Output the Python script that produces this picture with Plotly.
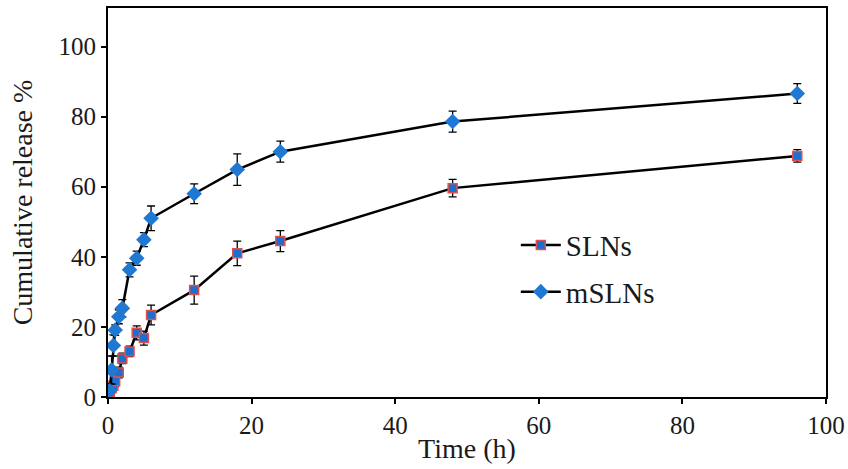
import plotly.graph_objects as go

# Sampling times (h)
time_h = [0.25, 0.5, 0.75, 1, 1.5, 2, 3, 4, 5, 6, 12, 18, 24, 48, 96]

# Cumulative release (%) and standard deviations
sln_release = [1.5, 2.5, 3.2, 4.5, 7.0, 11.0, 13.0, 18.3, 16.8, 23.4, 30.5, 41.0, 44.5, 59.6, 68.8]
sln_sd = [1.0, 1.2, 1.2, 1.5, 1.5, 1.5, 1.5, 2.0, 2.0, 2.8, 4.0, 3.5, 3.0, 2.5, 1.8]

msln_release = [1.8, 7.7, 14.7, 19.1, 22.9, 25.3, 36.3, 39.6, 44.9, 51.0, 58.0, 64.9, 70.0, 78.6, 86.6]
msln_sd = [2.0, 4.0, 3.0, 1.5, 2.0, 2.5, 2.0, 2.0, 2.0, 3.5, 2.8, 4.5, 3.0, 3.0, 2.8]

serif = "Liberation Serif, Times New Roman, serif"
ink = "#1a1a1a"

fig = go.Figure()

fig.add_trace(go.Scatter(
    x=time_h, y=sln_release, name="SLNs", mode="lines+markers",
    legendgroup="sln",
    line=dict(color="black", width=2.5),
    marker=dict(symbol="square", size=9, color="#1a6fd0",
                line=dict(color="#e0504a", width=1.5)),
    error_y=dict(type="data", array=sln_sd, visible=True,
                 color="black", thickness=1.3, width=4),
))

fig.add_trace(go.Scatter(
    x=time_h, y=msln_release, name="mSLNs", mode="lines+markers",
    legendgroup="msln",
    line=dict(color="black", width=2.5),
    marker=dict(symbol="diamond", size=12, color="#1f78d1",
                line=dict(color="#1f78d1", width=0)),
    error_y=dict(type="data", array=msln_sd, visible=True,
                 color="black", thickness=1.3, width=4),
))

fig.update_layout(
    width=848, height=469,
    margin=dict(l=108, r=22, t=8, b=72),
    paper_bgcolor="white", plot_bgcolor="white",
    font=dict(family=serif, color=ink, size=25),
    showlegend=True,
    legend=dict(
        x=0.568, y=0.456, xanchor="left", yanchor="top",
        font=dict(family=serif, size=29, color=ink),
        bgcolor="rgba(0,0,0,0)", tracegroupgap=6,
        itemwidth=40,
    ),
    xaxis=dict(
        range=[0, 100], tickvals=[0, 20, 40, 60, 80, 100],
        automargin=False,
        showgrid=False, zeroline=False,
        showline=True, linecolor="black", linewidth=2, mirror=True,
        ticks="outside", ticklen=5, tickwidth=2, tickcolor="black",
        tickfont=dict(family=serif, size=25, color=ink),
        title=dict(text="Time (h)", font=dict(family=serif, size=28, color=ink),
                   standoff=0),
    ),
    yaxis=dict(
        range=[0, 111], tickvals=[0, 20, 40, 60, 80, 100],
        automargin=False,
        showgrid=False, zeroline=False,
        showline=True, linecolor="black", linewidth=2, mirror=True,
        ticks="outside", ticklen=5, tickwidth=2, tickcolor="black",
        tickfont=dict(family=serif, size=25, color=ink),
        title=dict(text="Cumulative release %", font=dict(family=serif, size=28, color=ink),
                   standoff=18),
    ),
)

fig.write_html("out.html")
